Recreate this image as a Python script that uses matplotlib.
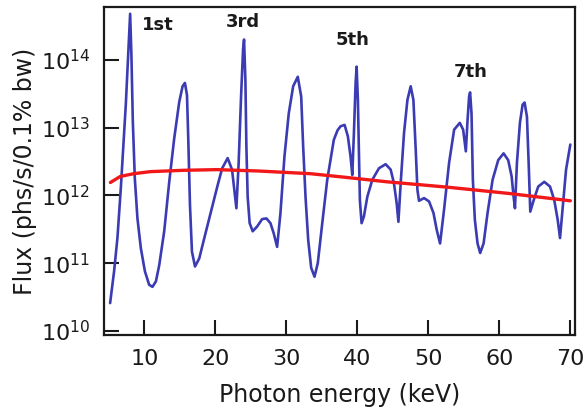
import numpy as np
import matplotlib
matplotlib.use("Agg")
import matplotlib.pyplot as plt
from matplotlib.ticker import LogLocator, NullLocator

# undulator spectrum: photon energy (keV) and log10 of flux
energy_kev = [5.16, 5.72, 6.19, 6.67, 7.04, 7.37, 7.70, 7.98, 8.16, 8.36,
              8.64, 9.01, 9.49, 10.06, 10.66, 11.13, 11.61, 12.08, 12.78, 13.49,
              14.19, 14.90, 15.37, 15.70, 15.99, 16.17, 16.41, 16.69, 17.12, 17.72,
              18.43, 19.37, 20.31, 20.95, 21.72, 22.34, 22.66, 22.95, 23.27, 23.61,
              23.89, 24.03, 24.22, 24.36, 24.54, 24.82, 25.25, 25.87, 26.58, 27.18,
              27.75, 28.21, 28.69, 29.16, 29.72, 30.33, 30.95, 31.60, 32.08, 32.36,
              32.69, 33.07, 33.49, 33.96, 34.42, 35.05, 35.75, 36.68, 37.20, 37.63,
              38.20, 38.66, 39.04, 39.28, 39.51, 39.75, 39.89, 40.07, 40.21, 40.35,
              40.59, 40.92, 41.40, 42.10, 43.04, 43.98, 44.69, 45.15, 45.54, 45.78,
              46.10, 46.57, 47.05, 47.51, 47.89, 48.22, 48.46, 48.68, 49.39, 50.10,
              50.72, 51.18, 51.65, 52.21, 52.92, 53.63, 54.43, 54.90, 55.28, 55.52,
              55.74, 55.88, 56.08, 56.27, 56.55, 56.93, 57.30, 57.78, 58.34, 59.05,
              59.84, 60.60, 61.25, 61.73, 62.01, 62.20, 62.48, 62.90, 63.28, 63.56,
              63.89, 64.13, 64.36, 64.84, 65.48, 66.33, 67.14, 67.74, 68.22, 68.55,
              68.93, 69.40, 70.00]
log_flux = [10.41, 10.88, 11.37, 12.11, 12.75, 13.34, 14.07, 14.68, 14.07, 13.09,
            12.25, 11.66, 11.22, 10.88, 10.68, 10.65, 10.73, 10.97, 11.47, 12.20,
            12.84, 13.38, 13.61, 13.66, 13.48, 12.84, 11.86, 11.17, 10.95, 11.07,
            11.37, 11.76, 12.15, 12.40, 12.55, 12.38, 12.08, 11.81, 12.48, 13.46,
            14.15, 14.30, 13.70, 12.72, 11.98, 11.59, 11.47, 11.54, 11.65, 11.66,
            11.59, 11.44, 11.24, 11.74, 12.57, 13.21, 13.61, 13.75, 13.46, 12.72,
            11.98, 11.34, 10.93, 10.80, 11.00, 11.59, 12.23, 12.82, 12.96, 13.02,
            13.04, 12.87, 12.57, 12.30, 12.92, 13.66, 13.90, 13.41, 12.67, 11.93,
            11.59, 11.69, 11.98, 12.23, 12.40, 12.46, 12.38, 12.18, 11.88, 11.61,
            12.18, 12.92, 13.41, 13.61, 13.41, 12.67, 12.08, 11.92, 11.96, 11.91,
            11.74, 11.49, 11.29, 11.79, 12.48, 12.97, 13.07, 12.97, 12.65, 13.11,
            13.46, 13.52, 13.21, 12.23, 11.64, 11.29, 11.15, 11.29, 11.74, 12.23,
            12.52, 12.62, 12.52, 12.28, 11.98, 11.81, 12.48, 13.07, 13.34, 13.37,
            13.16, 12.48, 11.76, 11.93, 12.13, 12.20, 12.13, 11.93, 11.64, 11.37,
            11.83, 12.38, 12.75]

# smooth envelope curve
env_kev = [5.2, 6.6, 8.5, 10.8, 15.5, 20.2, 26.0, 33.4, 38.0, 44.2, 52.8, 61.2, 70.0]
env_log_flux = [12.19, 12.28, 12.32, 12.35, 12.37, 12.38, 12.36, 12.32, 12.27,
                12.20, 12.12, 12.03, 11.92]

# harmonic labels
harm_labels = ["1st", "3rd", "5th", "7th"]
harm_kev = [11.9, 23.8, 39.3, 55.9]
harm_log_flux = [14.52, 14.56, 14.30, 13.82]

flux = 10.0 ** np.array(log_flux)
env_flux = 10.0 ** np.array(env_log_flux)

fig = plt.figure(figsize=(5.86, 4.13), dpi=100)
ax = fig.add_axes([0.1775, 0.189, 0.803, 0.794])

ax.plot(energy_kev, flux, color="#3b3bb3", lw=1.9,
        solid_joinstyle="round", solid_capstyle="round")
ax.plot(env_kev, env_flux, color="#f01818", lw=2.4, solid_capstyle="round")

for lab, xk, yl in zip(harm_labels, harm_kev, harm_log_flux):
    ax.text(xk, 10.0 ** yl, lab, ha="center", va="center",
            fontsize=13, fontweight="bold", color="#1a1a1a")

ax.set_yscale("log")
ax.set_xlim(4.3, 70.6)
ax.set_ylim(10.0 ** 9.94, 10.0 ** 14.78)
ax.set_xticks([10, 20, 30, 40, 50, 60, 70])
ax.yaxis.set_major_locator(LogLocator(base=10, numticks=10))
ax.yaxis.set_minor_locator(NullLocator())

ax.tick_params(direction="in", length=11, width=1.5, colors="#1a1a1a",
               labelsize=16)
ax.tick_params(axis="x", pad=10)
ax.tick_params(axis="y", pad=10)
for sp in ax.spines.values():
    sp.set_linewidth(1.6)
    sp.set_color("#1a1a1a")

ax.set_xlabel("Photon energy (keV)", fontsize=17, color="#1a1a1a", labelpad=10)
ax.set_ylabel("Flux (phs/s/0.1% bw)", fontsize=17, color="#1a1a1a", labelpad=3)

fig.savefig("out.png", dpi=100)
